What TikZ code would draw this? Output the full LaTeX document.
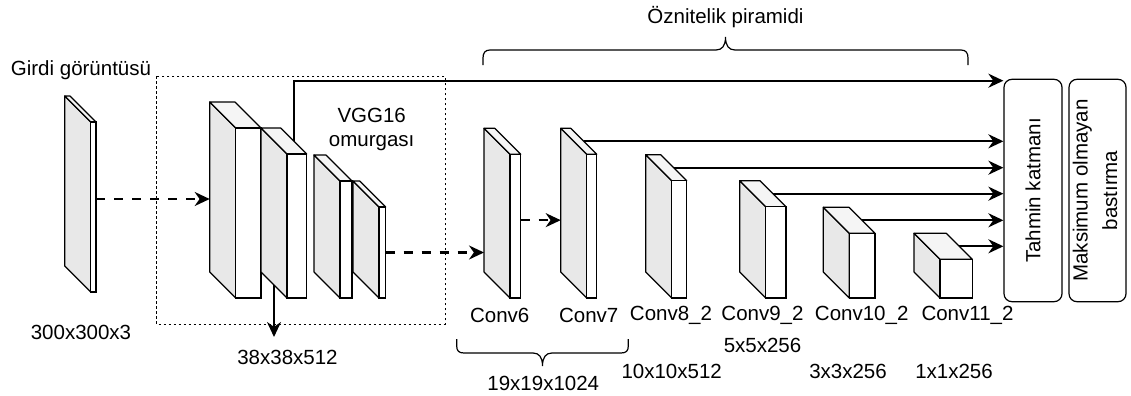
\documentclass[tikz,border=0pt]{standalone}
\usepackage{fontspec}
\setmainfont{Liberation Sans}
\usepackage{graphicx}
\usetikzlibrary{arrows.meta, calc}

% katman: #1 ad, #2 #3 on yuzun sol ust kosesi, #4 #5 sag alt kosesi
\newcommand{\katman}[5]{%
  \filldraw[yanyuz] (#2,#3) -- (#2-26,#3-26) -- (#2-26,#5-26) -- (#2,#5) -- cycle;
  \filldraw[ustyuz] (#2,#3) -- (#2-26,#3-26) -- (#4-26,#3-26) -- (#4,#3) -- cycle;
  \filldraw[onyuz] (#2,#3) rectangle (#4,#5);
  \coordinate (#1-e) at (#4,{(#3+#5)/2});
  \coordinate (#1-w) at (#2-26,{(#3+#5)/2});
  \coordinate (#1-t) at (#4-13,#3-13);
  \coordinate (#1-b) at (#2-13,#5-13);
}

\begin{document}
\begin{tikzpicture}[x=0.5pt, y=-0.5pt, font=\fontsize{10.25}{12.3}\selectfont,
  yanyuz/.style={fill=gray!18, draw, line width=0.6pt, line join=round},
  ustyuz/.style={fill=gray!8, draw, line width=0.6pt, line join=round},
  onyuz/.style={fill=white, draw, line width=0.6pt},
  ok/.style={line width=1.1pt, -{Stealth[length=7.5pt, width=7pt]}},
  kesikok/.style={ok, dash pattern=on 4.4pt off 4.6pt},
  noktali/.style={line width=0.5pt, dash pattern=on 1.25pt off 1.25pt},
  kutu/.style={draw, line width=0.6pt, rounded corners=4pt, inner sep=0pt},
  ayrac/.style={line width=0.6pt}]
	\useasboundingbox (0,0) rectangle (1131,396);

	% omurga cercevesi
	\draw[noktali] (156.7,76) rectangle (445,324);

	\katman{gir}{90.7}{122}{96}{292}
	\katman{k1}{235.7}{128}{261}{298}
	\katman{k2}{287}{154}{306.7}{298}
	\katman{k3}{340}{181}{352}{298}
	\katman{k4}{379}{207}{385.7}{298}
	\katman{k6}{510}{154.3}{520.7}{298}
	\katman{k7}{586.7}{154.3}{596.7}{298}
	\katman{k8}{671.7}{180.7}{686.7}{298}
	\katman{k9}{765.7}{206.7}{786}{298}
	\katman{k10}{849.3}{233.3}{875}{298}
	\katman{k11}{940}{259.3}{972.3}{298}

	\node[kutu, minimum width=29pt, minimum height=111.2pt] (tahmin) at (1033,190.5) {\rotatebox{90}{Tahmin katmanı}};
	\node[kutu, minimum width=28.5pt, minimum height=111.2pt] (maks) at (1097.5,190.5) {\rotatebox{90}{\begin{tabular}{@{}c@{}}Maksimum olmayan\\[2.5pt]bastırma\end{tabular}}};

	\coordinate (g1) at ($(gir-e)+(0,-8)$);
	\coordinate (g6) at ($(k6-e)+(0,-6)$);
	\coordinate (asagi) at (274,337);
	\draw[kesikok] (g1) -- (g1 -| k1-w);
	\draw[kesikok] (k4-e) -- (k4-e -| k6-w);
	\draw[kesikok] (g6) -- (g6 -| k7-w);
	\draw[ok] (k2-t) |- ([yshift=-1pt]tahmin.north west);
	\draw[ok] (k2-b) -- (asagi);
	\foreach \k in {k7,k8,k9,k10,k11}
		\draw[ok] (\k-t) -- (\k-t -| tahmin.west);

	% ayraclar
	\draw[ayrac] (483,65) -- (483,58) .. controls (483,53) and (485,50) .. (490,50) -- (716,50)
		.. controls (722,50) and (725.5,46) .. (725.5,37) .. controls (725.5,46) and (729,50) .. (735,50)
		-- (961,50) .. controls (966,50) and (968,53) .. (968,58) -- (968,65);
	\draw[ayrac] (456.7,339) -- (456.7,346) .. controls (456.7,351) and (459,353) .. (464,353) -- (533,353)
		.. controls (539,353) and (542.5,357) .. (542.5,366) .. controls (542.5,357) and (546,353) .. (552,353)
		-- (621,353) .. controls (626,353) and (628.3,351) .. (628.3,346) -- (628.3,339);

	\node (girdi) at (81,70) {Girdi görüntüsü};
	\node (b0) at (81,332) {300x300x3};
	\node (b1) at (287.5,357) {38x38x512};
	\node[align=center] (vgg) at (371.7,129.5) {VGG16\\omurgası};
	\node (oz) at (725.5,17) {Öznitelik piramidi};
	\node (l6) at (499.7,315) {Conv6};
	\node (l7) at (588.7,315) {Conv7};
	\node (l8) at (671,315) {Conv8\_2};
	\node (l9) at (762.5,315) {Conv9\_2};
	\node (l10) at (861.7,315) {Conv10\_2};
	\node (l11) at (967.5,315) {Conv11\_2};
	\node (b67) at (543.3,383) {19x19x1024};
	\node (b8) at (671.7,371) {10x10x512};
	\node (b9) at (762.5,345) {5x5x256};
	\node (b10) at (848,371) {3x3x256};
	\node (b11) at (954,371) {1x1x256};
\end{tikzpicture}
\end{document}
